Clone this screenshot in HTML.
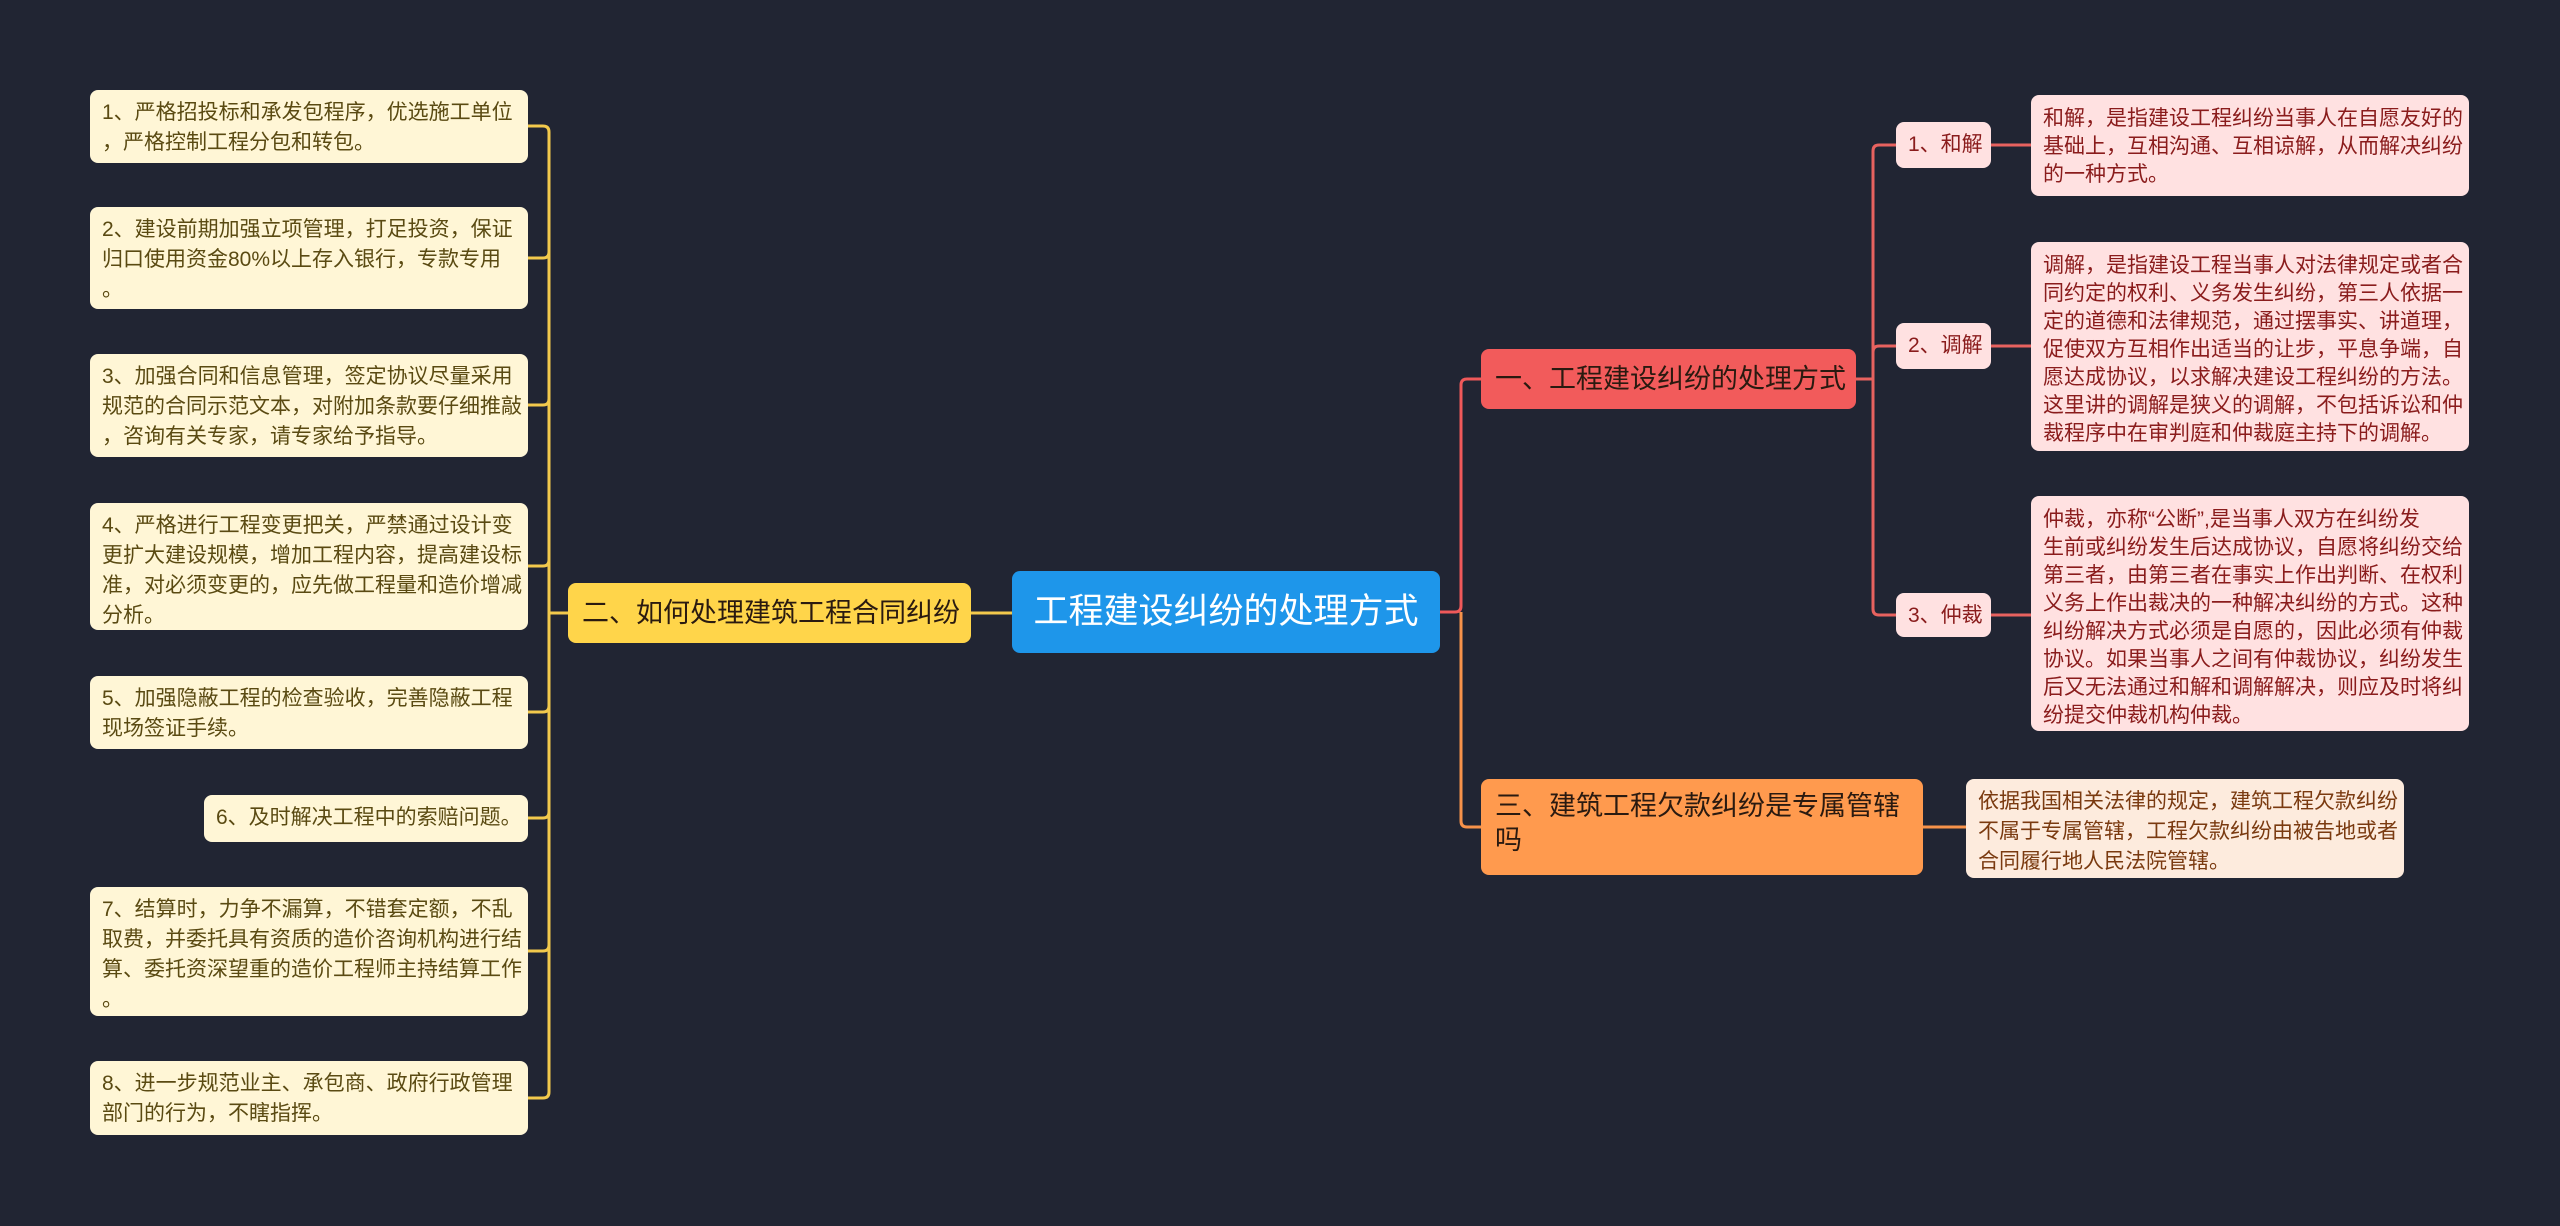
<!DOCTYPE html>
<html><head><meta charset="utf-8"><style>
body{margin:0;width:2560px;height:1226px;background:#212533;position:relative;overflow:hidden;font-family:"Liberation Sans","Noto Sans CJK SC",sans-serif}
.b{position:absolute;box-sizing:border-box;border-radius:8px;font-size:21px;line-height:30px;padding:8px 12px;white-space:nowrap}
.l{background:#fff6d6;color:#5a4a12}
.r{background:#ffe1e1;color:#8a1c1c}
.r.t{line-height:28px;padding-top:10px}
.o{background:#fdebdd;color:#7a3a10}
.m{display:flex;align-items:center;font-size:27px;line-height:34px;color:#2a1a10;padding:0 14px}
svg{position:absolute;left:0;top:0}
</style></head><body>
<svg width="2560" height="1226" fill="none" stroke-width="3">
<g stroke="#f2c94c">
<path d="M568 613 H549"/>
<path d="M527 126 H543 Q549 126 549 132 V1092 Q549 1098 543 1098 H527"/>
<path d="M549 252 Q549 258 543 258 H527"/>
<path d="M549 399 Q549 405 543 405 H527"/>
<path d="M549 560 Q549 566 543 566 H527"/>
<path d="M549 706 Q549 712 543 712 H527"/>
<path d="M549 812 Q549 818 543 818 H527"/>
<path d="M549 945 Q549 951 543 951 H527"/>
<path d="M971 613 H1012"/>
</g>
<path stroke="#f0595a" d="M1440 612 H1455 Q1461 612 1461 606 V385 Q1461 379 1467 379 H1481"/>
<path stroke="#f7924a" d="M1461 612 V821 Q1461 827 1467 827 H1481"/>
<path stroke="#f7924a" d="M1923 827 H1966"/>
<g stroke="#e8625f">
<path d="M1856 379 H1873 M1873 379 V151 Q1873 145 1879 145 H1896"/>
<path d="M1873 379 V609 Q1873 615 1879 615 H1896"/>
<path d="M1873 352 Q1873 346 1879 346 H1896"/>
<path d="M1991 145 H2031 M1991 346 H2031 M1991 615 H2031"/>
</g>
</svg>

<div class="b m" style="left:1012px;top:571px;width:428px;height:82px;background:#1e96ea;color:#fff;font-size:35px;justify-content:center;border-radius:8px">工程建设纠纷的处理方式</div>
<div class="b m" style="left:568px;top:583px;width:403px;height:60px;background:#ffd54a">二、如何处理建筑工程合同纠纷</div>
<div class="b m" style="left:1481px;top:349px;width:375px;height:60px;background:#f25b5b">一、工程建设纠纷的处理方式</div>
<div class="b m" style="left:1481px;top:779px;width:442px;height:96px;background:#ff9a4e;align-items:flex-start;padding-top:10px;white-space:normal">三、建筑工程欠款纠纷是专属管辖吗</div>

<div class="b l" style="left:90px;top:90px;width:438px;height:73px">1、严格招投标和承发包程序，优选施工单位<br>，严格控制工程分包和转包。</div>
<div class="b l" style="left:90px;top:207px;width:438px;height:102px">2、建设前期加强立项管理，打足投资，保证<br>归口使用资金80%以上存入银行，专款专用<br>。</div>
<div class="b l" style="left:90px;top:354px;width:438px;height:103px">3、加强合同和信息管理，签定协议尽量采用<br>规范的合同示范文本，对附加条款要仔细推敲<br>，咨询有关专家，请专家给予指导。</div>
<div class="b l" style="left:90px;top:503px;width:438px;height:127px">4、严格进行工程变更把关，严禁通过设计变<br>更扩大建设规模，增加工程内容，提高建设标<br>准，对必须变更的，应先做工程量和造价增减<br>分析。</div>
<div class="b l" style="left:90px;top:676px;width:438px;height:73px">5、加强隐蔽工程的检查验收，完善隐蔽工程<br>现场签证手续。</div>
<div class="b l" style="left:204px;top:795px;width:324px;height:47px;padding-top:8px">6、及时解决工程中的索赔问题。</div>
<div class="b l" style="left:90px;top:887px;width:438px;height:129px">7、结算时，力争不漏算，不错套定额，不乱<br>取费，并委托具有资质的造价咨询机构进行结<br>算、委托资深望重的造价工程师主持结算工作<br>。</div>
<div class="b l" style="left:90px;top:1061px;width:438px;height:74px">8、进一步规范业主、承包商、政府行政管理<br>部门的行为，不瞎指挥。</div>

<div class="b r" style="left:1896px;top:122px;width:95px;height:46px">1、和解</div>
<div class="b r" style="left:1896px;top:323px;width:95px;height:46px">2、调解</div>
<div class="b r" style="left:1896px;top:593px;width:95px;height:44px">3、仲裁</div>

<div class="b r t" style="left:2031px;top:95px;width:438px;height:101px">和解，是指建设工程纠纷当事人在自愿友好的<br>基础上，互相沟通、互相谅解，从而解决纠纷<br>的一种方式。</div>
<div class="b r t" style="left:2031px;top:242px;width:438px;height:209px">调解，是指建设工程当事人对法律规定或者合<br>同约定的权利、义务发生纠纷，第三人依据一<br>定的道德和法律规范，通过摆事实、讲道理，<br>促使双方互相作出适当的让步，平息争端，自<br>愿达成协议，以求解决建设工程纠纷的方法。<br>这里讲的调解是狭义的调解，不包括诉讼和仲<br>裁程序中在审判庭和仲裁庭主持下的调解。</div>
<div class="b r t" style="left:2031px;top:496px;width:438px;height:235px">仲裁，亦称“公断”,是当事人双方在纠纷发<br>生前或纠纷发生后达成协议，自愿将纠纷交给<br>第三者，由第三者在事实上作出判断、在权利<br>义务上作出裁决的一种解决纠纷的方式。这种<br>纠纷解决方式必须是自愿的，因此必须有仲裁<br>协议。如果当事人之间有仲裁协议，纠纷发生<br>后又无法通过和解和调解解决，则应及时将纠<br>纷提交仲裁机构仲裁。</div>
<div class="b o" style="left:1966px;top:779px;width:438px;height:99px">依据我国相关法律的规定，建筑工程欠款纠纷<br>不属于专属管辖，工程欠款纠纷由被告地或者<br>合同履行地人民法院管辖。</div>
</body></html>
